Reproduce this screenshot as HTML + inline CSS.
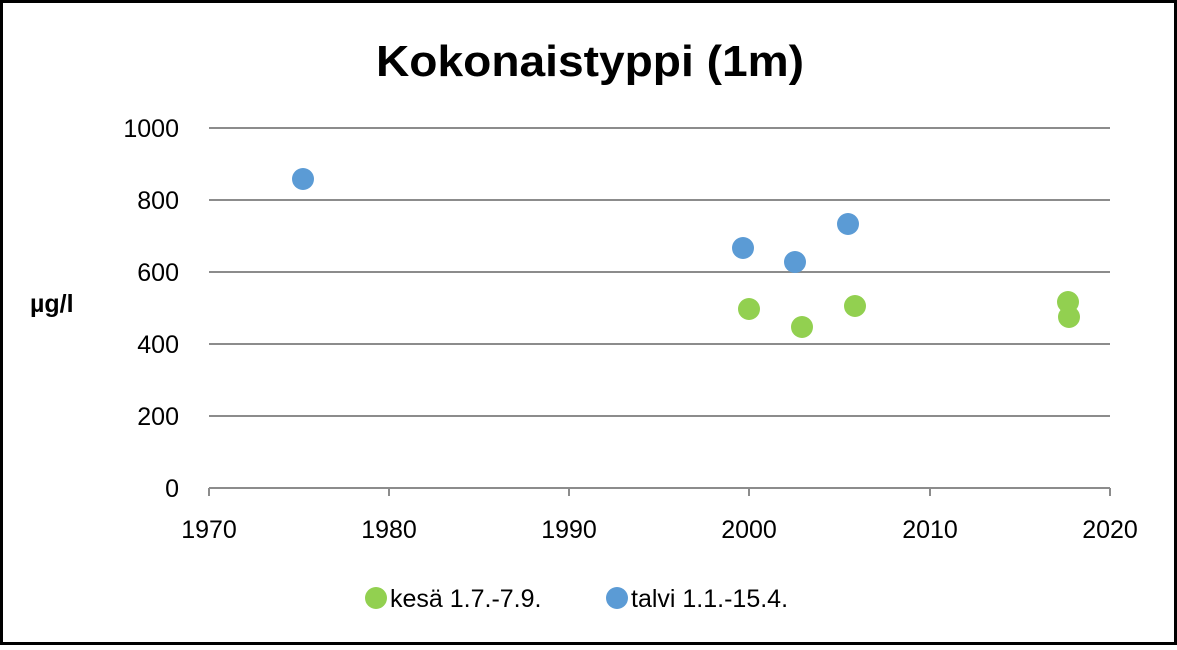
<!DOCTYPE html>
<html><head><meta charset="utf-8"><style>
html,body{margin:0;padding:0;background:#fff}
</style></head><body>
<svg width="1177" height="645" viewBox="0 0 1177 645" xmlns="http://www.w3.org/2000/svg" font-family="Liberation Sans, sans-serif">
<rect x="1.5" y="1.5" width="1174" height="642" fill="#fff" stroke="#000" stroke-width="3"/>
<text x="590" y="76" text-anchor="middle" font-size="44" font-weight="bold" fill="#000" textLength="428" lengthAdjust="spacingAndGlyphs">Kokonaistyppi (1m)</text>
<g stroke="#8c8c8c" stroke-width="2">
<line x1="209" y1="128" x2="1110" y2="128"/>
<line x1="209" y1="200" x2="1110" y2="200"/>
<line x1="209" y1="272" x2="1110" y2="272"/>
<line x1="209" y1="344" x2="1110" y2="344"/>
<line x1="209" y1="416" x2="1110" y2="416"/>
<line x1="209" y1="488" x2="1110" y2="488"/>
<line x1="209" y1="488" x2="209" y2="496"/>
<line x1="389" y1="488" x2="389" y2="496"/>
<line x1="569" y1="488" x2="569" y2="496"/>
<line x1="749" y1="488" x2="749" y2="496"/>
<line x1="930" y1="488" x2="930" y2="496"/>
<line x1="1110" y1="488" x2="1110" y2="496"/>
</g>
<g font-size="25" fill="#000" text-anchor="end">
<text x="179" y="137">1000</text>
<text x="179" y="209">800</text>
<text x="179" y="281">600</text>
<text x="179" y="353">400</text>
<text x="179" y="425">200</text>
<text x="179" y="497">0</text>
</g>
<g font-size="25" fill="#000" text-anchor="middle">
<text x="209" y="538">1970</text>
<text x="389" y="538">1980</text>
<text x="569" y="538">1990</text>
<text x="749" y="538">2000</text>
<text x="930" y="538">2010</text>
<text x="1110" y="538">2020</text>
</g>
<text x="30" y="312" font-size="25" font-weight="bold" fill="#000">µg/l</text>
<g fill="#92D050">
<circle cx="749" cy="309" r="11"/>
<circle cx="802" cy="327" r="11"/>
<circle cx="855" cy="306" r="11"/>
<circle cx="1068" cy="302" r="11"/>
<circle cx="1069" cy="317" r="11"/>
</g>
<g fill="#5B9BD5">
<circle cx="303" cy="179" r="11"/>
<circle cx="743" cy="248" r="11"/>
<circle cx="795" cy="262" r="11"/>
<circle cx="848" cy="224" r="11"/>
</g>
<circle cx="376" cy="598" r="11" fill="#92D050"/>
<text x="390" y="607" font-size="25" fill="#000">kesä 1.7.-7.9.</text>
<circle cx="617" cy="598" r="11" fill="#5B9BD5"/>
<text x="631" y="607" font-size="25" fill="#000">talvi 1.1.-15.4.</text>
</svg>
</body></html>
